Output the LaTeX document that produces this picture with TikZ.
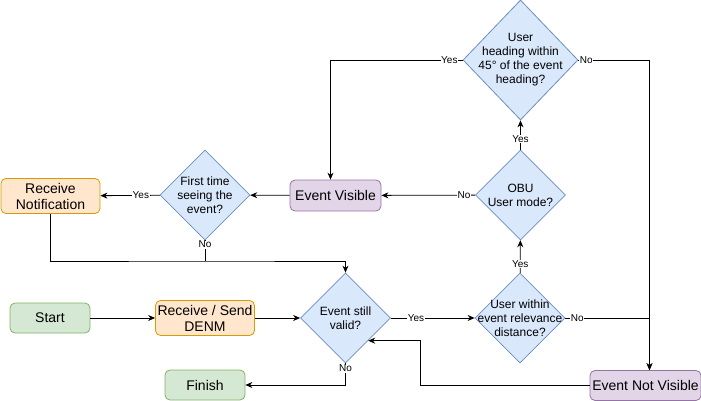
\documentclass[tikz,border=0pt]{standalone}
\usepackage{fontspec}
\setmainfont{Liberation Sans}
\usetikzlibrary{shapes.geometric,arrows.meta}
\definecolor{termfill}{HTML}{D5E8D4}
\definecolor{termline}{HTML}{82B366}
\definecolor{iofill}{HTML}{FFE6CC}
\definecolor{ioline}{HTML}{D79B00}
\definecolor{statefill}{HTML}{E1D5E7}
\definecolor{stateline}{HTML}{9673A6}
\definecolor{decfill}{HTML}{DAE8FC}
\definecolor{decline}{HTML}{6C8EBF}

\begin{document}
\begin{tikzpicture}[x=1pt,y=-1pt,
    box/.style={draw,rounded corners=5pt,line width=0.8pt,align=center,
      font=\fontsize{14}{16}\selectfont,inner sep=1pt},
    term/.style={box,fill=termfill,draw=termline,minimum width=80pt,minimum height=30pt},
    io/.style={box,fill=iofill,draw=ioline,minimum width=99pt,minimum height=35pt},
    state/.style={box,fill=statefill,draw=stateline,minimum height=31pt},
    decide/.style={diamond,draw=decline,fill=decfill,line width=0.8pt,inner sep=0pt,
      minimum width=90pt,minimum height=90pt},
    dtext/.style={align=center,font=\fontsize{12}{14}\selectfont,inner sep=0pt},
    lbl/.style={fill=white,font=\fontsize{10}{12}\selectfont,inner sep=0.5pt},
    arr/.style={-{Stealth[length=7pt,width=6pt]},line width=0.8pt}]
  \useasboundingbox (0,0) rectangle (701,401);
  \node[term] (start) at (50,318) {Start};
  \node[io] (denm) at (205,318) {Receive / Send\\DENM};
  \node[term] (finish) at (205,385) {Finish};
  \node[io] (recv) at (50.5,196) {Receive\\Notification};
  \node[state,minimum width=91pt] (evis) at (335.5,195.5) {Event Visible};
  \node[state,minimum width=111pt,minimum height=30pt] (envis) at (645.5,385.5) {Event Not Visible};
  \node[decide,label={[dtext]center:{Event still\\valid?}}] (valid) at (345.5,318) {};
  \node[decide,label={[dtext]center:{User within\\event relevance\\distance?}}] (within) at (520,318) {};
  \node[decide,label={[dtext]center:{OBU\\User mode?}}] (obu) at (520.5,195) {};
  \node[decide,minimum width=115pt,minimum height=120pt,
    label={[dtext]center:{User\\heading within\\45° of the event\\heading?}}] (head) at (520.5,60) {};
  \node[decide,label={[dtext]center:{First time\\seeing the\\event?}}] (first) at (205,195) {};
  \coordinate (merge) at (205,261);

  \draw[arr] (start) -- (denm);
  \draw[arr] (denm) -- (valid);
  \draw[arr] (valid) -- node[lbl,pos=0.3]{Yes} (within);
  \draw[arr] (within) -- node[lbl,pos=0.27]{Yes} (obu);
  \draw[arr] (obu) -- node[lbl,pos=0.37]{Yes} (head);
  \draw[arr] (obu) -- node[lbl,pos=0.12]{No} (evis);
  \draw[arr] (head) -| node[lbl,pos=0.05]{Yes} ([xshift=-5pt]evis.north);
  \draw[arr] (head) -| node[lbl,pos=0.055]{No} ([xshift=4pt]envis.north);
  \draw[arr] (within) -| node[lbl,pos=0.07]{No} ([xshift=4pt]envis.north);
  \draw[arr] (envis) -| ([xshift=52pt]valid.south east) -- (valid.south east);
  \draw[arr] (valid) |- node[lbl,pos=0.12]{No} (finish);
  \draw[arr] (evis) -- (first);
  \draw[arr] (first) -- node[lbl,pos=0.32]{Yes} (recv);
  \draw (first) -- node[lbl,pos=0.2]{No} (merge);
  \draw[arr] (recv) |- (merge) -| (valid.north);
\end{tikzpicture}
\end{document}
